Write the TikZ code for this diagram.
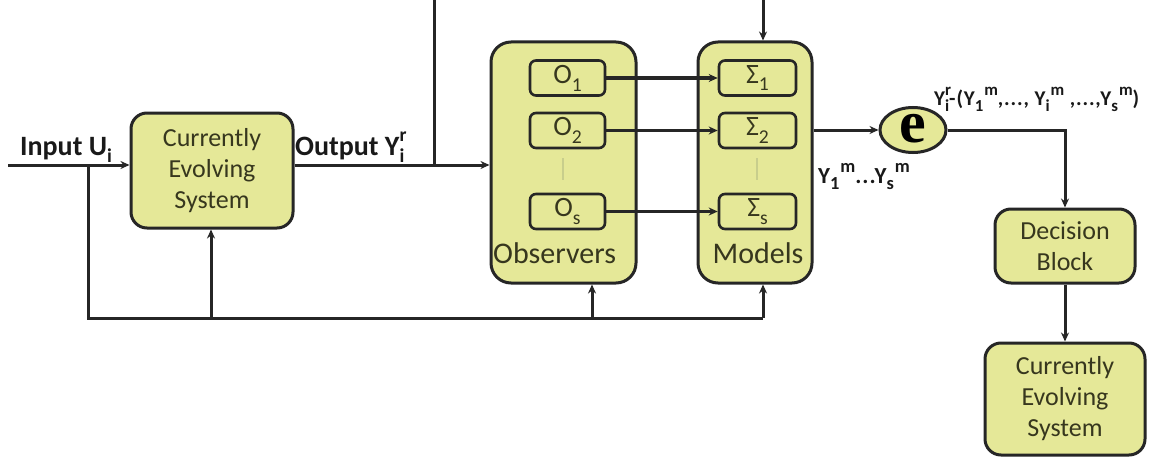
\documentclass[tikz,border=0pt]{standalone}
\usepackage{fontspec}
\setmainfont{Carlito}
\usetikzlibrary{arrows.meta,shapes.geometric}
\definecolor{boxfill}{RGB}{229,232,152}
\definecolor{txtc}{RGB}{55,55,30}
\definecolor{dotc}{RGB}{200,206,140}
\newcommand\mysub[1]{\raisebox{-0.28em}{\scalebox{0.7}{#1}}}
\newcommand\mysup[1]{\raisebox{0.5em}{\scalebox{0.7}{#1}}}
\newcommand\bsub[1]{\raisebox{-0.3em}{\scalebox{0.8}{#1}}}
\newcommand\bsup[1]{\raisebox{0.45em}{\scalebox{0.8}{#1}}}
\newcommand\subsupr[3]{#1\rlap{\mysup{#3}}\mysub{#2}}
\newcommand\bsubsupr[3]{#1\rlap{\bsup{#3}}\bsub{#2}}
\newcommand\subthensup[3]{#1\bsub{#2}\kern1pt\bsup{#3}}
\begin{document}
\begin{tikzpicture}[x=1pt,y=-1pt,
  bigbox/.style={draw=black!85, line width=3pt, rounded corners=16pt, fill=boxfill, text=txtc, align=center, font=\fontsize{26}{31}\selectfont, inner sep=0pt},
  smallbox/.style={draw=black!85, line width=2.6pt, rounded corners=6pt, fill=boxfill, text=txtc, minimum height=35pt, inner sep=0pt, font=\fontsize{28}{28}\selectfont},
  ln/.style={line width=3pt, draw=black!85},
  arr/.style={ln, -{Stealth[length=9pt,width=8pt]}},
  lbl/.style={font=\bfseries\fontsize{28}{30}\selectfont, inner sep=0pt, text=black!90},
  grp/.style={font=\fontsize{30}{32}\selectfont, text=txtc, inner sep=0pt}]
\useasboundingbox (0,0) rectangle (1167,460);
\fill[white] (0,0) rectangle (1167,460);
% main blocks
\node[bigbox, minimum width=162pt, minimum height=115pt] (CES) at (212,170.5) {Currently\\Evolving\\System};
\node[bigbox, rounded corners=20pt, minimum width=145pt, minimum height=241pt] (OBS) at (563.5,162.5) {};
\node[bigbox, rounded corners=20pt, minimum width=114pt, minimum height=241pt] (MOD) at (755,162.5) {};
\node[grp, anchor=west] (OBSL) at (493,253) {Observers};
\node[grp] (MODL) at (758,253) {Models};
% observer boxes
\node[smallbox, minimum width=75pt] (O1) at (567.5,78) {O\mysub{1}};
\node[smallbox, minimum width=75pt] (O2) at (567.5,130.5) {O\mysub{2}};
\node[smallbox, minimum width=75pt] (OS) at (567.5,211.5) {O\mysub{s}};
\node[smallbox, minimum width=77pt] (S1) at (757.5,78) {Σ\mysub{1}};
\node[smallbox, minimum width=77pt] (S2) at (757.5,130.5) {Σ\mysub{2}};
\node[smallbox, minimum width=77pt] (SS) at (757.5,211.5) {Σ\mysub{s}};
\draw[dotc, line width=2pt] (563,158) -- (563,180);
\draw[dotc, line width=2pt] (757,158) -- (757,180);
% error node
\node[ellipse, draw=black!85, line width=3pt, fill=boxfill, minimum width=66pt, minimum height=45pt, inner sep=0pt] (E) at (913,130) {\fontspec{Liberation Serif}\bfseries\fontsize{60}{60}\selectfont\raisebox{3pt}{e}};
% right blocks
\node[bigbox, minimum width=140pt, minimum height=74pt] (DEC) at (1065,246) {Decision\\Block};
\node[bigbox, minimum width=160pt, minimum height=112pt] (CES2) at (1065,399) {Currently\\Evolving\\System};
% coordinates
\coordinate (inL) at (8,165);
\coordinate (br) at (88,165);
\coordinate (topL) at (434,0);
\coordinate (topR) at (763,0);
\coordinate (fbL) at (88,318);
\coordinate (fbC) at (211,318);
\coordinate (fbO) at (592,318);
\coordinate (fbR) at (763,318);
% connectors
\draw[arr] (inL) -- (inL -| CES.west);
\draw[arr] (CES.east |- inL) -- (inL -| OBS.west);
\draw[ln] (topL) -- (topL |- inL);
\draw[arr] (topR) -- (topR |- MOD.north);
\draw[ln] (br) -- (fbL) -- (fbR);
\draw[arr] (fbC) -- (fbC |- CES.south);
\draw[arr] (fbO) -- (fbO |- OBS.south);
\draw[arr] (fbR) -- (fbR |- MOD.south);
\draw[arr] (O1.east) -- (S1.west);
\draw[arr] (O2.east) -- (S2.west);
\draw[arr] (OS.east) -- (SS.west);
\draw[arr] (E.west -| MOD.east) -- (E.west);
\draw[arr] (E.east) -| (DEC.north);
\draw[arr] (DEC.south) -- (CES2.north);
% labels
\node[lbl, anchor=base west] (inlbl) at (20,155) {Input U\mysub{i}};
\node[lbl, anchor=base west] (outlbl) at (295,155) {Output \subsupr{Y}{i}{r}};
\node[lbl, anchor=base west, font=\bfseries\fontsize{23}{24}\selectfont\addfontfeature{LetterSpace=4}] (ylbl) at (818,183) {\subthensup{Y}{1}{m}...\subthensup{Y}{s}{m}};
\node[lbl, anchor=base west, font=\bfseries\fontsize{21}{22}\selectfont\addfontfeature{LetterSpace=4}] (elbl) at (934,105) {\bsubsupr{Y}{i}{r}-(\subthensup{Y}{1}{m},..., \subthensup{Y}{i}{m} ,...,\subthensup{Y}{s}{m})};
\end{tikzpicture}
\end{document}
